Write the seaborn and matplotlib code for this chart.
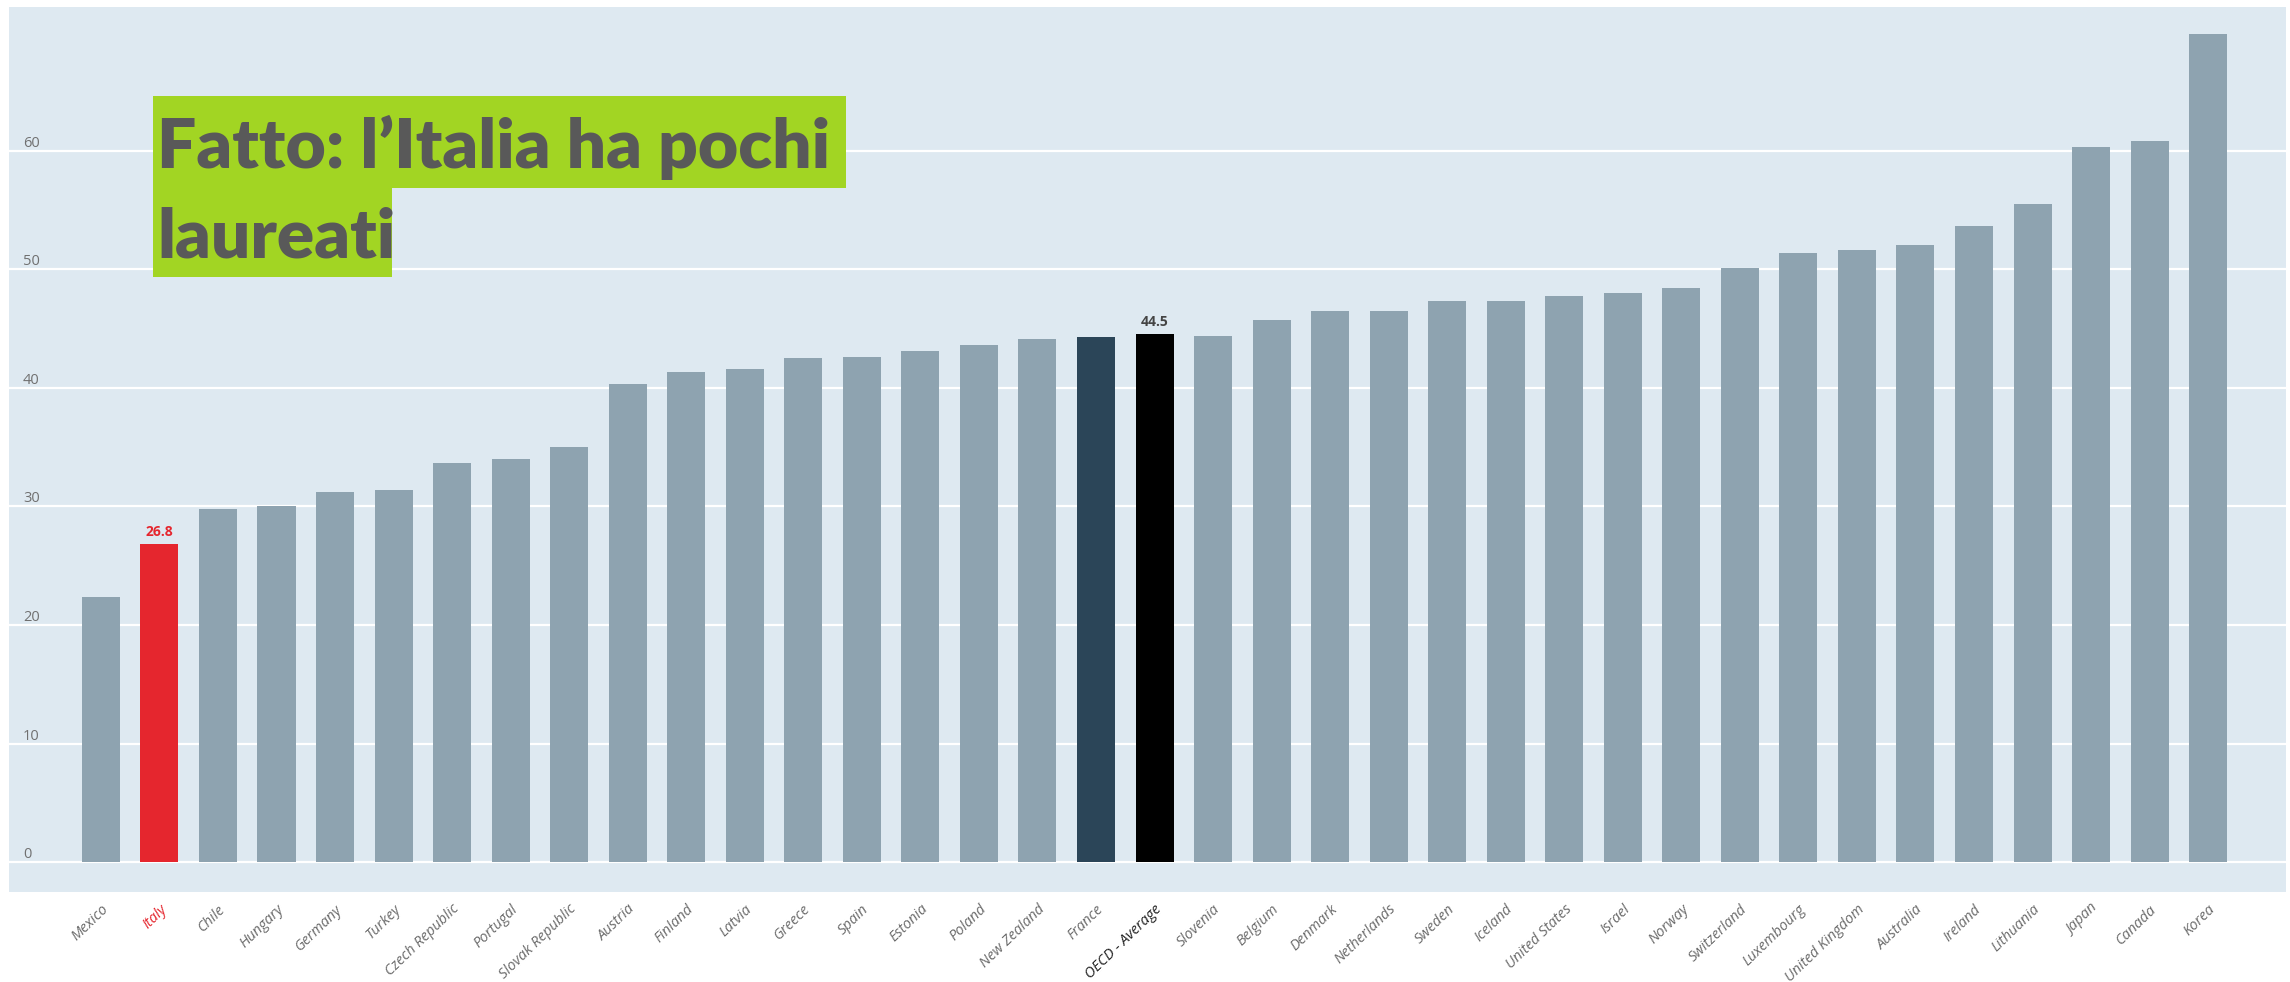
import matplotlib
matplotlib.use("Agg")
import matplotlib.pyplot as plt
from matplotlib.patches import Rectangle
import seaborn as sns

countries = ["Mexico", "Italy", "Chile", "Hungary", "Germany", "Turkey", "Czech Republic",
             "Portugal", "Slovak Republic", "Austria", "Finland", "Latvia", "Greece", "Spain",
             "Estonia", "Poland", "New Zealand", "France", "OECD - Average", "Slovenia",
             "Belgium", "Denmark", "Netherlands", "Sweden", "Iceland", "United States",
             "Israel", "Norway", "Switzerland", "Luxembourg", "United Kingdom", "Australia",
             "Ireland", "Lithuania", "Japan", "Canada", "Korea"]
values = [22.4, 26.8, 29.8, 30.0, 31.2, 31.4, 33.7, 34.0, 35.0, 40.3, 41.3, 41.6, 42.5, 42.6,
          43.1, 43.6, 44.1, 44.3, 44.5, 44.4, 45.7, 46.5, 46.5, 47.3, 47.3, 47.7, 48.0, 48.4,
          50.1, 51.4, 51.6, 52.0, 53.6, 55.5, 60.3, 60.8, 69.8]
yticks = [0, 10, 20, 30, 40, 50, 60]
labelled = {"Italy": "26.8", "OECD - Average": "44.5"}
title_lines = ["Fatto: l\u2019Italia ha pochi", "laureati"]

GREY = "#8ea3b0"
RED = "#e5262e"
DARK = "#2b4558"
BLACK = "#000000"
BG = "#dee9f1"
GREEN = "#a2d523"
special = {"Italy": RED, "France": DARK, "OECD - Average": BLACK}
palette = {c: special.get(c, GREY) for c in countries}

W, H = 2290, 982
fig = plt.figure(figsize=(W / 100, H / 100), dpi=100)
ax = fig.add_axes([9 / W, 1 - 892 / H, (2286 - 9) / W, (892 - 7) / H])
ax.set_facecolor(BG)

sns.barplot(x=countries, y=values, hue=countries, palette=palette, legend=False,
            width=0.65, ax=ax, saturation=1, edgecolor="none")

ax.set_xlim(-1.57, 37.33)
ax.set_ylim(-2.5, 72.1)
for s in ax.spines.values():
    s.set_visible(False)
ax.set_axisbelow(True)
ax.yaxis.grid(True, color="white", linewidth=1.6)
ax.xaxis.grid(False)
ax.set_yticks(yticks)
ax.set_yticklabels([str(t) for t in yticks], fontsize=10.5, color="#707070",
                   family="Open Sans", ha="left", va="bottom")
ax.tick_params(axis="y", length=0, pad=-10)
ax.tick_params(axis="x", length=0, pad=7)
ax.set_xlabel("")
ax.set_ylabel("")

ax.set_xticks(range(len(countries)))
ax.set_xticklabels(countries, rotation=44, ha="right", rotation_mode="anchor",
                   fontsize=10.5, family="Open Sans", style="italic", color="#6b6b6b")
for lab in ax.get_xticklabels():
    t = lab.get_text()
    if t == "Italy":
        lab.set_color(RED)
    elif t == "OECD - Average":
        lab.set_color("#222222")

for i, c in enumerate(countries):
    if c in labelled:
        col = RED if c == "Italy" else "#444444"
        ax.annotate(labelled[c], (i, values[i]), xytext=(0, 4), textcoords="offset points",
                    ha="center", va="bottom", fontsize=10, fontweight="bold",
                    color=col, family="Open Sans")

# title boxes (green highlight behind each line)
fig.patches.append(Rectangle((153 / W, 1 - 188 / H), (846 - 153) / W, (188 - 96) / H,
                             transform=fig.transFigure, facecolor=GREEN, edgecolor="none",
                             zorder=5))
fig.patches.append(Rectangle((153 / W, 1 - 277 / H), (392 - 153) / W, (277 - 188) / H,
                             transform=fig.transFigure, facecolor=GREEN, edgecolor="none",
                             zorder=5))
fig.text(157 / W, 1 - 168 / H, title_lines[0], fontsize=50, fontweight="heavy",
         family="Lato", color="#595959", ha="left", va="baseline", zorder=6)
fig.text(157 / W, 1 - 257 / H, title_lines[1], fontsize=50, fontweight="heavy",
         family="Lato", color="#595959", ha="left", va="baseline", zorder=6)

fig.savefig("out.png", dpi=100, facecolor="white")
